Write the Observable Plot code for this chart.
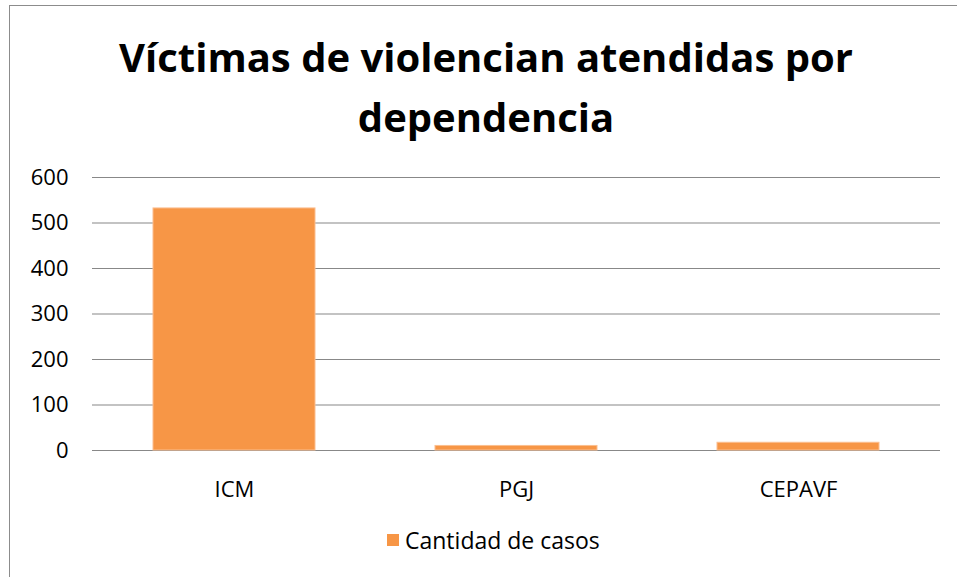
<!DOCTYPE html>
<html>
<head>
<meta charset="utf-8">
<script src="https://cdn.jsdelivr.net/npm/d3@7"></script>
<script src="https://cdn.jsdelivr.net/npm/@observablehq/plot@0.6"></script>
<style>
  html, body { margin: 0; padding: 0; background: #fff; }
  #wrap { position: relative; width: 957px; height: 577px; overflow: hidden; font-family: "Open Sans", sans-serif; }
  #frame { position: absolute; left: 9px; top: 5px; width: 1000px; height: 700px; border-left: 1.5px solid #8c8c8c; border-top: 1.5px solid #8c8c8c; }
  #title { position: absolute; left: 0; width: 972px; top: 27px; text-align: center; font-weight: 700; font-size: 40px; line-height: 60px; color: #000; }
  #chart { position: absolute; left: 0; top: 0; }
  #legend { position: absolute; left: 387px; top: 524px; font-size: 23px; color: #000; display: flex; align-items: center; }
  #legend .sw { width: 12px; height: 12px; background: #F79646; margin-right: 6px; }
</style>
</head>
<body>
<div id="wrap">
  <div id="frame"></div>
  <div id="chart"></div>
  <div id="title">Víctimas de violencian atendidas por<br>dependencia</div>
  <div id="legend"><div class="sw"></div><span id="legendLabel"></span></div>
</div>
<script>
const categories = ["ICM", "PGJ", "CEPAVF"];
const cases = [532, 10, 17];
const yTicks = [0, 100, 200, 300, 400, 500, 600];
const seriesName = "Cantidad de casos";

const data = categories.map((c, i) => ({dependencia: c, casos: cases[i]}));
document.getElementById("legendLabel").textContent = seriesName;

const chart = Plot.plot({
  width: 957,
  height: 577,
  marginTop: 177,
  marginBottom: 127,
  marginLeft: 92,
  marginRight: 17,
  style: {fontFamily: "'Open Sans', sans-serif", fontSize: "22px", color: "#000", background: "transparent"},
  x: {domain: categories, paddingInner: 0.427, paddingOuter: 0.2135, label: null},
  y: {domain: [0, 600], ticks: yTicks, label: null},
  marks: [
    Plot.ruleY(yTicks, {stroke: "#888", strokeWidth: 1.2}),
    Plot.ruleX([0], {frameAnchor: "left", stroke: "#888", strokeWidth: 1.2}),
    Plot.barY(data, {x: "dependencia", y: "casos", fill: "#F79646", stroke: "#FBBE8F", strokeWidth: 1}),
    Plot.axisY({ticks: yTicks, tickSize: 0, tickPadding: 24, fontSize: 22, label: null}),
    Plot.axisX({tickSize: 0, tickPadding: 31, fontSize: 22, label: null})
  ]
});
document.getElementById("chart").appendChild(chart);
</script>
</body>
</html>
